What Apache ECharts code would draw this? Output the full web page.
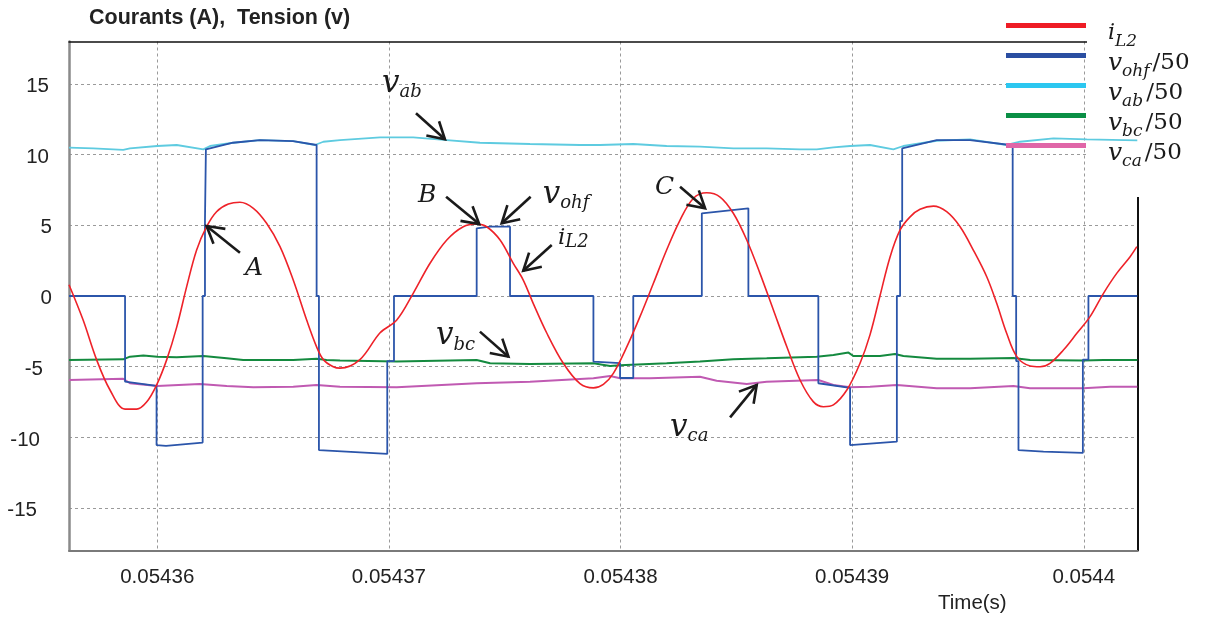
<!DOCTYPE html>
<html><head><meta charset="utf-8">
<script src="https://cdn.jsdelivr.net/npm/echarts@6/dist/echarts.min.js"></script>
<style>html,body{margin:0;padding:0;background:#fff}#c{width:1211px;height:617px}</style>
</head><body><div id="c"></div>
<script>
// time in microseconds (labels shown in seconds)
const timeMin = 54356.19, timeMax = 54402.31;
const timeTicks = [54360, 54370, 54380, 54390, 54400];
const yTicks = [-15, -10, -5, 0, 5, 10, 15];

const iL2 = [[54356.19,0.8],[54356.80,-1.7],[54357.38,-4.5],[54357.96,-6.65],[54358.61,-8.0],[54359.11,-8.0],[54359.54,-7.5],[54359.97,-6.3],[54360.41,-4.5],[54360.84,-2.2],[54361.27,0.66],[54361.70,3.25],[54362.13,4.9],[54362.56,5.96],[54363.07,6.5],[54363.57,6.63],[54364.15,6.2],[54364.72,5.14],[54365.30,3.49],[54365.87,1.13],[54366.45,-1.7],[54366.88,-3.6],[54367.17,-4.5],[54367.60,-5.0],[54367.89,-5.1],[54368.75,-4.5],[54369.62,-2.6],[54370.34,-1.7],[54371.05,0.19],[54371.77,2.3],[54372.50,3.96],[54373.21,4.9],[54373.79,5.09],[54374.22,4.9],[54374.80,3.96],[54375.37,2.31],[54375.80,1.13],[54376.23,-0.52],[54376.81,-2.6],[54377.53,-4.76],[54378.25,-6.2],[54378.83,-6.5],[54379.26,-6.25],[54379.69,-5.47],[54380.27,-3.6],[54380.84,-1.46],[54381.42,0.9],[54381.99,3.25],[54382.57,5.37],[54383.14,6.9],[54383.72,7.3],[54384.30,7.0],[54384.87,5.85],[54385.45,3.96],[54386.02,1.6],[54386.60,-0.99],[54387.18,-3.59],[54387.75,-5.94],[54388.32,-7.47],[54388.76,-7.83],[54389.19,-7.7],[54389.77,-6.65],[54390.34,-4.76],[54390.77,-2.75],[54391.20,0.0],[54391.64,2.78],[54392.07,4.67],[54392.50,5.6],[54392.93,6.13],[54393.51,6.36],[54394.08,5.96],[54394.66,4.9],[54395.23,3.25],[54395.81,1.36],[54396.24,-0.52],[54396.67,-2.64],[54397.11,-4.29],[54397.68,-4.95],[54398.11,-5.0],[54398.54,-4.76],[54399.12,-3.82],[54399.70,-2.64],[54400.27,-1.46],[54400.85,0.19],[54401.42,1.6],[54402.00,2.78],[54402.29,3.49]];

const vOhf = [[54356.19,0],[54358.61,0],[54358.61,-6.06],[54359.97,-6.36],[54359.97,-10.54],[54360.38,-10.6],[54361.96,-10.37],[54361.96,0],[54362.06,0],[54362.06,5.3],[54362.10,5.3],[54362.10,10.37],[54363.27,10.84],[54364.43,11.03],[54365.86,10.96],[54366.88,10.68],[54366.88,0],[54366.98,0],[54366.98,-10.9],[54369.93,-11.17],[54369.93,-4.6],[54370.22,-4.6],[54370.22,0],[54373.79,0],[54373.79,4.79],[54374.37,4.9],[54375.23,4.9],[54375.23,0],[54378.83,0],[54378.83,-4.64],[54379.98,-4.75],[54379.98,-5.8],[54380.55,-5.8],[54380.55,0],[54383.51,0],[54383.51,5.85],[54385.52,6.2],[54385.52,0],[54388.54,0],[54388.54,-6.17],[54389.91,-6.5],[54389.91,-10.54],[54391.93,-10.3],[54391.93,0],[54392.07,0],[54392.07,5.3],[54392.16,5.3],[54392.16,10.44],[54393.65,11.03],[54395.09,11.03],[54396.82,10.68],[54396.93,10.68],[54396.93,0],[54397.08,0],[54397.08,-4.6],[54397.18,-4.6],[54397.18,-10.9],[54398.26,-11.0],[54399.96,-11.1],[54399.96,-4.5],[54400.20,-4.5],[54400.20,0],[54402.31,0]];

const vAb = [[54356.19,10.5],[54357.24,10.44],[54358.53,10.33],[54358.82,10.44],[54360.00,10.61],[54360.84,10.68],[54361.99,10.37],[54362.28,10.61],[54363.28,10.84],[54364.43,11.03],[54365.87,10.96],[54366.81,10.68],[54367.17,10.91],[54367.89,11.03],[54369.62,11.22],[54371.05,11.22],[54372.50,11.03],[54373.93,10.84],[54376.09,10.75],[54378.25,10.68],[54379.11,10.68],[54380.55,10.75],[54381.99,10.61],[54383.43,10.56],[54384.87,10.44],[54386.31,10.44],[54387.75,10.37],[54388.47,10.37],[54389.19,10.51],[54389.91,10.61],[54390.77,10.68],[54391.78,10.37],[54392.21,10.61],[54393.65,10.98],[54395.09,11.08],[54396.67,10.68],[54397.25,10.91],[54398.69,11.15],[54400.13,11.08],[54402.31,11.0]];

const vBc = [[54356.19,-4.53],[54358.53,-4.48],[54358.82,-4.29],[54359.40,-4.2],[54360.00,-4.29],[54360.84,-4.34],[54361.99,-4.24],[54363.00,-4.41],[54363.71,-4.53],[54365.87,-4.53],[54366.88,-4.43],[54367.31,-4.53],[54367.89,-4.57],[54370.34,-4.64],[54373.79,-4.53],[54374.37,-4.76],[54376.09,-4.81],[54378.83,-4.76],[54379.55,-4.95],[54379.98,-4.9],[54381.99,-4.76],[54383.43,-4.64],[54384.87,-4.48],[54386.31,-4.41],[54388.47,-4.29],[54389.19,-4.17],[54389.84,-4.0],[54390.05,-4.24],[54391.20,-4.24],[54391.85,-4.1],[54392.21,-4.24],[54393.65,-4.43],[54395.09,-4.43],[54396.96,-4.38],[54397.68,-4.53],[54399.98,-4.57],[54400.85,-4.53],[54402.31,-4.53]];

const vCa = [[54356.19,-5.94],[54358.53,-5.85],[54358.82,-6.17],[54360.00,-6.36],[54361.84,-6.22],[54363.00,-6.36],[54364.15,-6.46],[54365.87,-6.41],[54366.88,-6.29],[54367.89,-6.41],[54370.34,-6.46],[54373.79,-6.17],[54376.09,-6.06],[54378.83,-5.82],[54379.55,-5.66],[54379.98,-5.82],[54381.27,-5.82],[54383.43,-5.71],[54384.15,-5.99],[54385.45,-6.22],[54386.31,-6.06],[54388.54,-5.94],[54389.19,-6.29],[54389.91,-6.46],[54390.77,-6.41],[54391.93,-6.29],[54393.65,-6.53],[54395.09,-6.53],[54396.96,-6.36],[54397.68,-6.53],[54399.98,-6.53],[54401.14,-6.41],[54402.31,-6.41]];

const legendNames = ['iL2', 'vohf', 'vab', 'vbc', 'vca'];
const legendTexts = {
  iL2: '{i|i}{s|L2}',
  vohf: '{m|v}{s|ohf}{n|/50}',
  vab: '{m|v}{s|ab}{n|/50}',
  vbc: '{m|v}{s|bc}{n|/50}',
  vca: '{m|v}{s|ca}{n|/50}'
};
const legendColors = ['#ee1c25', '#2a4ea1', '#2cc7f0', '#0a8f45', '#e066a8'];

// annotations (data coordinates)
const annLabels = ['{v|v}{s|ab}', '{c|A}', '{c|B}', '{v|v}{s|ohf}', '{i|i}{t|L2}', '{c|C}', '{v|v}{s|bc}', '{v|v}{s|ca}'];
const annTextAt = [[54369.70,15.03],[54363.79,1.91],[54371.26,7.12],[54376.64,7.14],[54377.30,4.07],[54381.49,7.64],[54372.03,-2.86],[54382.14,-9.34]];
const annFrom = [[54371.17,12.92],[54363.57,3.06],[54372.47,7.02],[54376.12,7.02],[54377.03,3.61],[54382.57,7.73],[54373.93,-2.52],[54384.73,-8.58]];
const annTo = [[54372.42,11.08],[54362.13,4.95],[54373.90,5.09],[54374.87,5.14],[54375.80,1.79],[54383.65,6.20],[54375.16,-4.29],[54385.88,-6.29]];

const chart = echarts.init(document.getElementById('c'), null, {renderer: 'canvas'});
const serif = 'DejaVu Serif';
const ink = '#1a1a1a';
const gridLine = {show: true, lineStyle: {color: '#9a9a9a', type: [3, 3], width: 1}};

function lineSeries(name, data, color, width, extra) {
  return Object.assign({
    name, type: 'line', data, symbol: 'none', showSymbol: false,
    lineStyle: {color, width}, itemStyle: {color},
    emphasis: {disabled: true}, animation: false
  }, extra || {});
}

const yPad = {'15': 3, '10': 3, '5': 0, '0': 0, '-5': 9, '-10': 12, '-15': 15};

chart.setOption({
  animation: false,
  textStyle: {fontFamily: 'Liberation Sans'},
  title: {
    text: 'Courants (A),  Tension (v)', left: 89, top: 7, padding: 0,
    textStyle: {fontSize: 21.5, fontWeight: 'bold', color: '#222', fontFamily: 'Liberation Sans'}
  },
  grid: {left: 69, right: 73.7, top: 41.5, bottom: 66.5, containLabel: false},
  xAxis: [{
    type: 'value', min: timeMin, max: timeMax, position: 'bottom',
    axisLine: {show: true, onZero: false, lineStyle: {color: '#7a7a7a', width: 2}},
    axisTick: {show: false, customValues: timeTicks},
    axisLabel: {
      customValues: timeTicks, margin: 16, fontSize: 20.5, color: '#222',
      formatter: v => (v / 1e6).toFixed(5).replace(/0+$/, '')
    },
    splitLine: gridLine
  }, {
    type: 'value', min: timeMin, max: timeMax, position: 'top',
    axisLine: {show: true, onZero: false, lineStyle: {color: '#111', width: 1.5}},
    axisTick: {show: false}, axisLabel: {show: false}, splitLine: {show: false}
  }],
  yAxis: [{
    type: 'value', min: -18, max: 18, position: 'left',
    axisLine: {show: true, onZero: false, lineStyle: {color: '#8a8a8a', width: 2.5}},
    axisTick: {show: false, customValues: yTicks},
    axisLabel: {
      customValues: yTicks, margin: 17, fontSize: 20.5, color: '#222',
      formatter: v => '{p' + yPad[String(v)] + '|' + v + '}',
      rich: {
        p0: {fontSize: 20.5, color: '#222', padding: [5, 0, 0, 0]},
        p3: {fontSize: 20.5, color: '#222', padding: [5, 3, 0, 0]},
        p9: {fontSize: 20.5, color: '#222', padding: [5, 9, 0, 0]},
        p12: {fontSize: 20.5, color: '#222', padding: [5, 12, 0, 0]},
        p15: {fontSize: 20.5, color: '#222', padding: [5, 15, 0, 0]}
      }
    },
    splitLine: gridLine
  }, {
    type: 'value', min: -18, max: 18, position: 'right',
    axisLine: {show: true, onZero: false, lineStyle: {color: '#111', width: 2}},
    axisTick: {show: false}, axisLabel: {show: false}, splitLine: {show: false}
  }],
  legend: {
    orient: 'vertical', left: 1006, top: 17, padding: 0,
    itemWidth: 80, itemHeight: 5, itemGap: -3, icon: 'rect',
    selectedMode: false,
    data: legendNames.map((n, i) => ({name: n, itemStyle: {color: legendColors[i]}})),
    formatter: n => legendTexts[n],
    textStyle: {
      padding: [16, 0, 0, 17],
      rich: {
        m: {fontFamily: serif, fontStyle: 'italic', fontSize: 25, lineHeight: 30, color: ink},
        i: {fontFamily: serif, fontStyle: 'italic', fontSize: 22, lineHeight: 30, color: ink},
        s: {fontFamily: serif, fontStyle: 'italic', fontSize: 17, lineHeight: 14, padding: [16, 0, 0, 0], color: ink},
        n: {fontFamily: serif, fontSize: 23, lineHeight: 30, color: ink, padding: [0, 0, 0, 3]}
      }
    }
  },
  series: [
    lineSeries('vab', vAb, '#5ecbe0', 1.8),
    lineSeries('vbc', vBc, '#148a3f', 2),
    lineSeries('vca', vCa, '#c05ab2', 2),
    lineSeries('vohf', vOhf, '#2b55aa', 1.8),
    lineSeries('iL2', iL2, '#ee2229', 1.6, {smooth: 0.35})
  ]
});

function drawOverlays() {
  const els = [];
  // white panel behind the legend, covering the top-right corner of the frame
  els.push({type: 'rect', z: 3, shape: {x: 1087, y: 0, width: 124, height: 197}, style: {fill: '#fff'}});
  els.push({type: 'text', z: 5, style: {text: 'Time(s)', x: 938, y: 603, fill: '#222',
    font: '20.5px "Liberation Sans"', align: 'left', verticalAlign: 'middle'}});
  const annRich = {
    v: {fontFamily: serif, fontStyle: 'italic', fontSize: 31, lineHeight: 34, fill: ink},
    c: {fontFamily: serif, fontStyle: 'italic', fontSize: 25, lineHeight: 34, fill: ink},
    i: {fontFamily: serif, fontStyle: 'italic', fontSize: 23, lineHeight: 34, fill: ink},
    s: {fontFamily: serif, fontStyle: 'italic', fontSize: 18, lineHeight: 17, padding: [17, 0, 0, 0], fill: ink},
    t: {fontFamily: serif, fontStyle: 'italic', fontSize: 18, lineHeight: 26, padding: [7, 0, 0, 0], fill: ink}
  };
  annLabels.forEach((lab, k) => {
    const p = chart.convertToPixel({gridIndex: 0}, annTextAt[k]);
    els.push({type: 'text', z: 5, style: {text: lab, x: p[0], y: p[1], align: 'left', verticalAlign: 'middle', rich: annRich, fill: ink}});
    const a = chart.convertToPixel({gridIndex: 0}, annFrom[k]);
    const b = chart.convertToPixel({gridIndex: 0}, annTo[k]);
    const ang = Math.atan2(b[1] - a[1], b[0] - a[0]);
    const L = 19, h = Math.PI / 6;
    const w1 = [b[0] - L * Math.cos(ang - h), b[1] - L * Math.sin(ang - h)];
    const w2 = [b[0] - L * Math.cos(ang + h), b[1] - L * Math.sin(ang + h)];
    els.push({type: 'line', z: 5, shape: {x1: a[0], y1: a[1], x2: b[0], y2: b[1]}, style: {stroke: ink, lineWidth: 2.6}});
    els.push({type: 'polyline', z: 5, shape: {points: [w1, b, w2]}, style: {stroke: ink, lineWidth: 2.6, fill: null, lineJoin: 'miter'}});
  });
  chart.setOption({graphic: {elements: els}});
}
drawOverlays();
</script>
</body></html>
